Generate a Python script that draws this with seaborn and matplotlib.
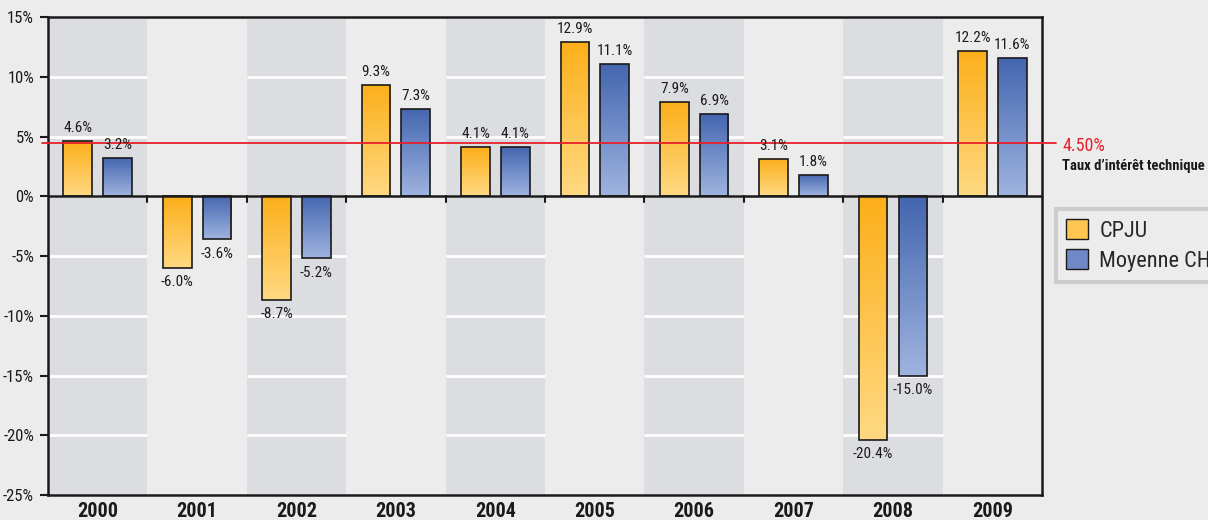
"""Rendements annuels CPJU vs moyenne suisse, 2000-2009."""

import matplotlib

matplotlib.use("Agg")

import matplotlib.pyplot as plt
import numpy as np
import pandas as pd
import seaborn as sns
from matplotlib import font_manager
from matplotlib.colors import LinearSegmentedColormap
from matplotlib.patches import Patch
from matplotlib.transforms import blended_transform_factory

years = ["2000", "2001", "2002", "2003", "2004", "2005", "2006", "2007", "2008", "2009"]
cpju = [4.6, -6.0, -8.7, 9.3, 4.1, 12.9, 7.9, 3.1, -20.4, 12.2]
moyenne_ch = [3.2, -3.6, -5.2, 7.3, 4.1, 11.1, 6.9, 1.8, -15.0, 11.6]
series_names = ["CPJU", "Moyenne CH"]
taux_technique = 4.5
y_ticks = [15, 10, 5, 0, -5, -10, -15, -20, -25]

BG = "#ececec"
BAND = "#dcdde0"
INK = "#1a1a1a"
GRADIENTS = {
    "CPJU": ("#fcaf1a", "#ffd982"),
    "Moyenne CH": ("#4466b0", "#9eb3df"),
}


def _pick_condensed_font():
    """Find a narrow sans family if one is installed, else fall back to DejaVu."""
    fonts = font_manager.fontManager.ttflist
    for f in fonts:
        if f.name in ("Liberation Sans Narrow", "Roboto Condensed", "Open Sans Condensed"):
            return f.name, "normal"
    for f in fonts:
        if "condensed" in str(f.stretch).lower() or "narrow" in f.name.lower():
            return f.name, f.stretch
    return "DejaVu Sans", "normal"


sns.set_theme(style="white")
font_name, font_stretch = _pick_condensed_font()
plt.rcParams["font.family"] = [font_name, "DejaVu Sans"]
plt.rcParams["font.stretch"] = font_stretch
narrow = font_name != "DejaVu Sans" or font_stretch != "normal"
scale = 1.0 if narrow else 0.82

frame = pd.DataFrame(
    {
        "year": years * 2,
        "value": cpju + moyenne_ch,
        "series": [series_names[0]] * len(years) + [series_names[1]] * len(years),
    }
)

fig = plt.figure(figsize=(12.08, 5.20), dpi=100, facecolor=BG)
ax = fig.add_axes([0.0397, 0.048, 0.823, 0.919])
ax.set_facecolor(BG)

sns.barplot(
    data=frame,
    x="year",
    y="value",
    hue="series",
    hue_order=series_names,
    palette=[GRADIENTS[n][0] for n in series_names],
    width=0.8,
    gap=0.28,
    edgecolor=INK,
    linewidth=1.2,
    legend=False,
    zorder=3,
    ax=ax,
)

# alternating shaded columns, white grid only shows inside the shaded ones
for i in range(0, len(years), 2):
    ax.axvspan(i - 0.5, i + 0.5, color=BAND, zorder=0, lw=0)
    ax.hlines(y_ticks[1:-1], i - 0.5, i + 0.5, colors="white", lw=2, zorder=1)

# zero line with small ticks at category boundaries
ax.axhline(0, color=INK, lw=1.8, zorder=4)
for i in range(1, len(years)):
    ax.plot([i - 0.5, i - 0.5], [0, -0.5], color=INK, lw=1.5, zorder=4)

# vertical gradient on every bar, dark at the top
bar_series = [series_names[0]] * len(years) + [series_names[1]] * len(years)
grad = np.linspace(0, 1, 100).reshape(-1, 1)
for patch, name in zip(ax.patches, bar_series):
    cmap = LinearSegmentedColormap.from_list(name, list(GRADIENTS[name]))
    x0, y0 = patch.get_x(), patch.get_y()
    w, h = patch.get_width(), patch.get_height()
    y_lo, y_hi = min(y0, y0 + h), max(y0, y0 + h)
    img = ax.imshow(grad, cmap=cmap, extent=[x0, x0 + w, y_lo, y_hi],
                    origin="upper", aspect="auto", zorder=3)
    img.set_clip_path(patch)
    patch.set_facecolor("none")
    patch.set_zorder(3.5)

ax.set_xlim(-0.5, len(years) - 0.5)
ax.set_ylim(-25, 15)

# value labels
for patch, val in zip(ax.patches, cpju + moyenne_ch):
    cx = patch.get_x() + patch.get_width() / 2
    if val >= 0:
        ax.text(cx, val + 0.5, f"{val:.1f}%", ha="center", va="bottom",
                fontsize=11 * scale, color=INK, zorder=5)
    else:
        ax.text(cx, val - 0.6, f"{val:.1f}%", ha="center", va="top",
                fontsize=11 * scale, color=INK, zorder=5)

# technical interest rate line
trans = blended_transform_factory(ax.transAxes, ax.transData)
ax.plot([-0.006, 1.014], [taux_technique, taux_technique], color="#e8202a", lw=1.3,
        transform=trans, clip_on=False, zorder=4)
ax.text(1.02, taux_technique - 0.3, f"{taux_technique:.2f}%", transform=trans, color="#e8202a",
        fontsize=13 * scale, ha="left", va="center")
ax.text(1.02, taux_technique - 2.0, "Taux d\u2019intérêt technique", transform=trans,
        color=INK, fontsize=10.5 * scale, fontweight="bold", ha="left", va="center")

# axes styling
for side in ["left", "right", "top", "bottom"]:
    ax.spines[side].set_color(INK)
    ax.spines[side].set_linewidth(1.8)
ax.set_yticks(y_ticks)
ax.set_yticklabels([f"{t}%" for t in y_ticks], fontsize=12 * scale, color=INK)
ax.tick_params(axis="y", left=True, length=6, width=1.5, color=INK, pad=4)
ax.tick_params(axis="x", bottom=False, pad=-1)
ax.set_xticks(range(len(years)))
ax.set_xticklabels(years, fontsize=14.5 * scale, fontweight="bold", color=INK)
ax.set_xlabel("")
ax.set_ylabel("")

handles = [
    Patch(facecolor="#fdc650", edgecolor=INK, label=series_names[0]),
    Patch(facecolor="#7088c6", edgecolor=INK, label=series_names[1]),
]
leg = fig.legend(
    handles=handles,
    loc="upper left",
    bbox_to_anchor=(0.874, 0.598),
    borderaxespad=0,
    fontsize=16 * scale,
    frameon=True,
    fancybox=False,
    handlelength=1.0,
    handleheight=1.0,
    handletextpad=0.5,
    labelspacing=0.35,
    borderpad=0.45,
)
leg.get_frame().set_edgecolor("#c4c4c6")
leg.get_frame().set_linewidth(3)
leg.get_frame().set_facecolor(BG)

fig.savefig("out.png", dpi=100, facecolor=BG)
